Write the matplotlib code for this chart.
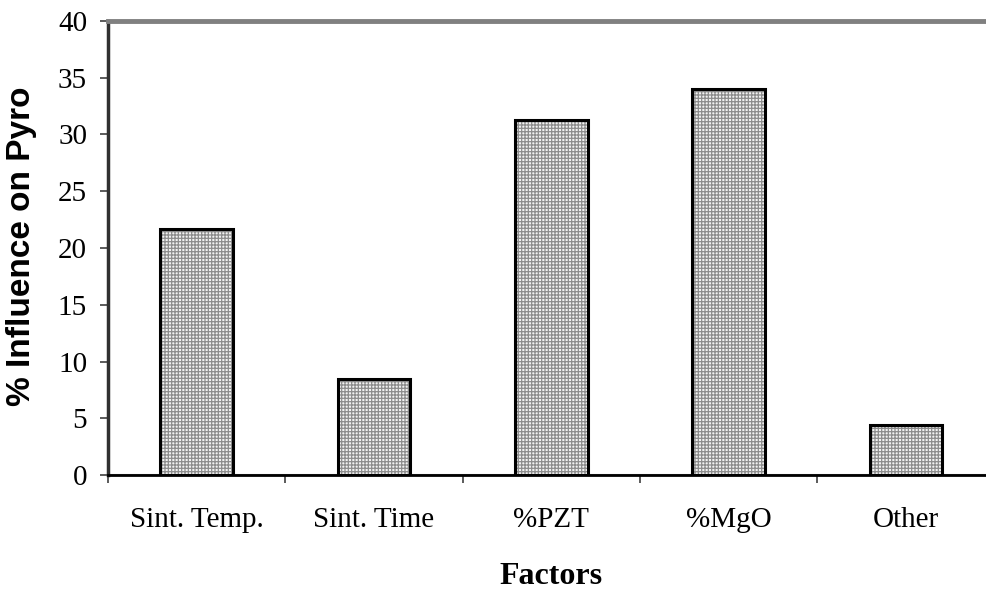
import matplotlib
matplotlib.use('Agg')
import matplotlib.pyplot as plt
import numpy as np

factors = ['Sint. Temp.', 'Sint. Time', '%PZT', '%MgO', 'Other']
influence = [21.7, 8.5, 31.3, 34.0, 4.4]

plt.rcParams['hatch.linewidth'] = 0.9

W, H = 987, 589
fig = plt.figure(figsize=(W / 100, H / 100), dpi=100)
ax = fig.add_axes([108 / W, 114 / H, 886.5 / W, 454 / H])

x = np.arange(len(factors))
# stippled fill, then black outline on top
ax.bar(x, influence, width=0.41, color='#f2f2f2', edgecolor='#8c8c8c',
       hatch='+' * 5, linewidth=0, zorder=2)
ax.bar(x, influence, width=0.41, fill=False, edgecolor='black',
       linewidth=2.2, zorder=3)

ax.set_xlim(-0.5, len(factors) - 0.5)
ax.set_ylim(0, 40)
ax.set_yticks(np.arange(0, 41, 5))
ax.set_xticks(x)
ax.set_xticks(np.arange(-0.5, len(factors), 1.0), minor=True)
ax.set_xticklabels(factors)

serif = 'Liberation Serif'
for lab in ax.get_xticklabels() + ax.get_yticklabels():
    lab.set_fontfamily(serif)
    lab.set_fontsize(21)

ax.tick_params(axis='x', which='major', length=0, pad=23)
ax.tick_params(axis='x', which='minor', length=6, width=1.2, color='#404040')
ax.tick_params(axis='y', length=6, width=1.2, color='#404040', pad=9)

# frame: gray top wall, dark left/bottom
ax.spines['right'].set_visible(False)
ax.spines['top'].set_color('#808080')
ax.spines['top'].set_linewidth(3.5)
ax.spines['left'].set_color('#303030')
ax.spines['left'].set_linewidth(2.5)
ax.spines['bottom'].set_color('black')
ax.spines['bottom'].set_linewidth(2.0)
ax.axhline(0, color='#909090', lw=1.5, zorder=1)

fig.text(22 / W, 1 - 246 / H, '% Influence on Pyro', rotation=90,
         ha='center', va='center', fontsize=24, fontweight='bold',
         family='Liberation Sans')
fig.text((108 + 886.5 / 2) / W, 1 - 576 / H, 'Factors', ha='center',
         va='center', fontsize=23, fontweight='bold', family=serif)

fig.savefig('out.png', dpi=100)
